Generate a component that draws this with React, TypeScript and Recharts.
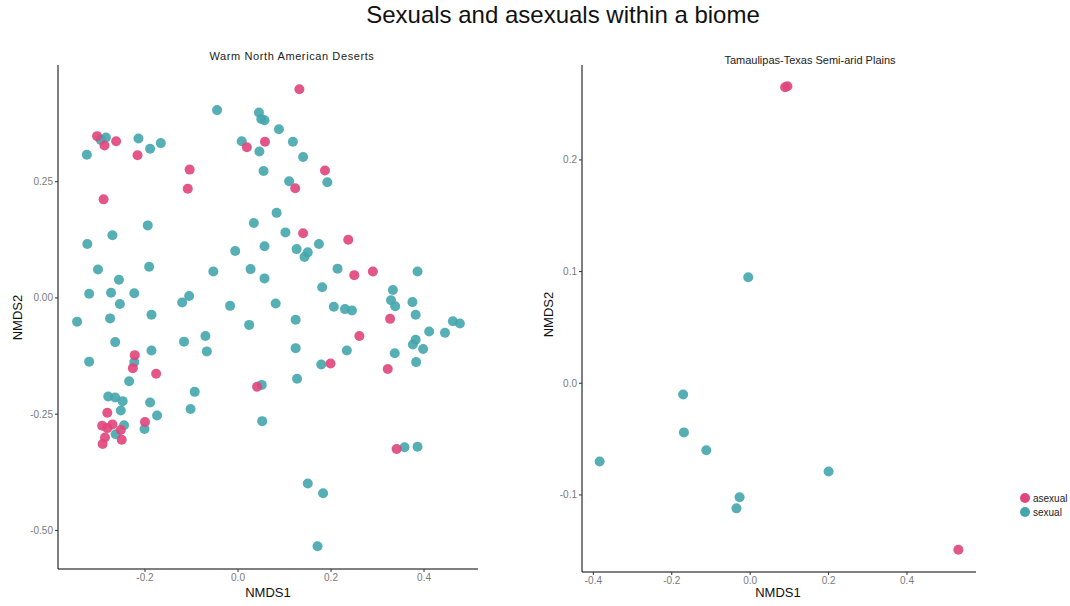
import React from "react"
import { ScatterChart, Scatter, XAxis, YAxis } from "recharts"

// Warm North American Deserts
const desertAsexual = [
  { x: -0.303, y: 0.348 }, { x: -0.287, y: 0.328 }, { x: -0.262, y: 0.337 },
  { x: -0.216, y: 0.307 }, { x: 0.019, y: 0.324 }, { x: 0.058, y: 0.336 },
  { x: -0.104, y: 0.276 }, { x: -0.108, y: 0.235 }, { x: -0.289, y: 0.212 },
  { x: 0.132, y: 0.449 }, { x: 0.187, y: 0.274 }, { x: 0.123, y: 0.236 },
  { x: 0.14, y: 0.139 }, { x: 0.237, y: 0.125 }, { x: 0.25, y: 0.049 },
  { x: 0.29, y: 0.057 }, { x: 0.327, y: -0.045 }, { x: 0.261, y: -0.082 },
  { x: 0.199, y: -0.141 }, { x: 0.322, y: -0.153 }, { x: -0.222, y: -0.123 },
  { x: -0.226, y: -0.151 }, { x: -0.176, y: -0.163 }, { x: 0.041, y: -0.191 },
  { x: -0.281, y: -0.247 }, { x: -0.292, y: -0.275 }, { x: -0.27, y: -0.272 },
  { x: -0.281, y: -0.28 }, { x: -0.252, y: -0.284 }, { x: -0.2, y: -0.267 },
  { x: -0.286, y: -0.3 }, { x: -0.291, y: -0.314 }, { x: -0.25, y: -0.305 },
  { x: 0.341, y: -0.325 },
]

const desertSexual = [
  { x: -0.284, y: 0.345 }, { x: -0.295, y: 0.34 }, { x: -0.325, y: 0.308 },
  { x: -0.214, y: 0.343 }, { x: -0.189, y: 0.321 }, { x: -0.166, y: 0.333 },
  { x: -0.045, y: 0.404 }, { x: 0.045, y: 0.399 }, { x: 0.05, y: 0.385 },
  { x: 0.057, y: 0.382 }, { x: 0.008, y: 0.337 }, { x: 0.046, y: 0.315 },
  { x: 0.055, y: 0.273 }, { x: 0.034, y: 0.161 }, { x: -0.194, y: 0.156 },
  { x: -0.27, y: 0.135 }, { x: -0.324, y: 0.116 }, { x: 0.088, y: 0.363 },
  { x: 0.118, y: 0.336 }, { x: 0.14, y: 0.303 }, { x: 0.192, y: 0.249 },
  { x: 0.11, y: 0.251 }, { x: 0.083, y: 0.183 }, { x: 0.102, y: 0.141 },
  { x: 0.174, y: 0.116 }, { x: -0.006, y: 0.101 }, { x: 0.057, y: 0.111 },
  { x: -0.301, y: 0.061 }, { x: -0.191, y: 0.067 }, { x: -0.053, y: 0.057 },
  { x: 0.027, y: 0.062 }, { x: 0.057, y: 0.042 }, { x: -0.256, y: 0.039 },
  { x: -0.32, y: 0.009 }, { x: -0.273, y: 0.011 }, { x: -0.223, y: 0.01 },
  { x: -0.254, y: -0.013 }, { x: -0.12, y: -0.01 }, { x: -0.105, y: 0.004 },
  { x: -0.017, y: -0.017 }, { x: -0.346, y: -0.051 }, { x: -0.275, y: -0.044 },
  { x: -0.186, y: -0.036 }, { x: 0.024, y: -0.058 }, { x: -0.264, y: -0.095 },
  { x: -0.116, y: -0.094 }, { x: -0.07, y: -0.082 }, { x: -0.067, y: -0.115 },
  { x: -0.186, y: -0.113 }, { x: -0.223, y: -0.138 }, { x: -0.234, y: -0.179 },
  { x: -0.32, y: -0.137 }, { x: -0.093, y: -0.202 }, { x: 0.051, y: -0.187 },
  { x: -0.279, y: -0.212 }, { x: -0.264, y: -0.214 }, { x: -0.248, y: -0.222 },
  { x: -0.252, y: -0.242 }, { x: -0.189, y: -0.225 }, { x: -0.174, y: -0.253 },
  { x: -0.102, y: -0.239 }, { x: 0.052, y: -0.265 }, { x: -0.245, y: -0.274 },
  { x: -0.263, y: -0.293 }, { x: -0.201, y: -0.282 }, { x: 0.358, y: -0.321 },
  { x: 0.386, y: -0.32 }, { x: 0.15, y: -0.399 }, { x: 0.183, y: -0.42 },
  { x: 0.171, y: -0.534 }, { x: 0.126, y: 0.105 }, { x: 0.15, y: 0.098 },
  { x: 0.143, y: 0.088 }, { x: 0.214, y: 0.063 }, { x: 0.386, y: 0.057 },
  { x: 0.181, y: 0.023 }, { x: 0.333, y: 0.017 }, { x: 0.329, y: -0.005 },
  { x: 0.338, y: -0.018 }, { x: 0.375, y: -0.009 }, { x: 0.382, y: -0.036 },
  { x: 0.081, y: -0.012 }, { x: 0.206, y: -0.019 }, { x: 0.23, y: -0.024 },
  { x: 0.245, y: -0.027 }, { x: 0.124, y: -0.047 }, { x: 0.462, y: -0.05 },
  { x: 0.477, y: -0.055 }, { x: 0.411, y: -0.072 }, { x: 0.445, y: -0.075 },
  { x: 0.382, y: -0.09 }, { x: 0.376, y: -0.1 }, { x: 0.398, y: -0.11 },
  { x: 0.124, y: -0.108 }, { x: 0.234, y: -0.113 }, { x: 0.337, y: -0.119 },
  { x: 0.383, y: -0.138 }, { x: 0.179, y: -0.143 }, { x: 0.127, y: -0.174 },
]

// Tamaulipas-Texas Semi-arid Plains
const plainsAsexual = [
  { x: 0.089, y: 0.265 }, { x: 0.095, y: 0.266 }, { x: 0.531, y: -0.149 },
]

const plainsSexual = [
  { x: -0.005, y: 0.095 }, { x: -0.171, y: -0.01 }, { x: -0.169, y: -0.044 },
  { x: -0.112, y: -0.06 }, { x: -0.384, y: -0.07 }, { x: 0.2, y: -0.079 },
  { x: -0.027, y: -0.102 }, { x: -0.035, y: -0.112 },
]

const desertXTicks = [-0.2, 0, 0.2, 0.4]
const desertYTicks = [-0.5, -0.25, 0, 0.25]
const plainsXTicks = [-0.4, -0.2, 0, 0.2, 0.4]
const plainsYTicks = [-0.1, 0, 0.1, 0.2]

const ASEXUAL = "#E0457B"
const SEXUAL = "#44A6AD"
const FONT = "'Liberation Sans', Arial, sans-serif"

const dot = (color: string) => (p: any) => (
  <circle cx={p.cx} cy={p.cy} r={5} fill={color} fillOpacity={0.9} />
)

const tickStyle = { fontSize: 10, fill: "#7a7a7a", fontFamily: FONT }
const axisLine = { stroke: "#000", strokeWidth: 1 }

interface PanelProps {
  asexual: { x: number; y: number }[]
  sexual: { x: number; y: number }[]
  xDomain: [number, number]
  yDomain: [number, number]
  xTicks: number[]
  yTicks: number[]
  xDigits: number
  yDigits: number
  width: number
  yAxisWidth: number
  margin: { top: number; right: number; bottom: number; left: number }
}

function Panel(props: PanelProps) {
  return (
    <ScatterChart width={props.width} height={606} margin={props.margin}>
      <XAxis
        type="number"
        dataKey="x"
        domain={props.xDomain}
        ticks={props.xTicks}
        allowDataOverflow
        tickFormatter={(v: number) => v.toFixed(props.xDigits)}
        tick={tickStyle}
        axisLine={axisLine}
        tickLine={{ stroke: "#333" }}
        tickSize={3}
        tickMargin={2}
        height={30}
      />
      <YAxis
        type="number"
        dataKey="y"
        domain={props.yDomain}
        ticks={props.yTicks}
        allowDataOverflow
        tickFormatter={(v: number) => v.toFixed(props.yDigits)}
        tick={tickStyle}
        axisLine={axisLine}
        tickLine={{ stroke: "#333" }}
        tickSize={3}
        tickMargin={2}
        width={props.yAxisWidth}
      />
      <Scatter data={props.sexual} shape={dot(SEXUAL)} isAnimationActive={false} />
      <Scatter data={props.asexual} shape={dot(ASEXUAL)} isAnimationActive={false} />
    </ScatterChart>
  )
}

const abs = (extra: React.CSSProperties): React.CSSProperties => ({
  position: "absolute",
  fontFamily: FONT,
  whiteSpace: "nowrap",
  ...extra,
})

export default function App() {
  return (
    <div
      style={{
        position: "absolute",
        left: 0,
        top: 0,
        width: 1070,
        height: 606,
        background: "#fff",
        overflow: "hidden",
      }}
    >
      <div style={abs({ left: 0, top: 0 })}>
        <Panel
          asexual={desertAsexual}
          sexual={desertSexual}
          xDomain={[-0.387, 0.516]}
          yDomain={[-0.583, 0.501]}
          xTicks={desertXTicks}
          yTicks={desertYTicks}
          xDigits={1}
          yDigits={2}
          width={490}
          yAxisWidth={58}
          margin={{ top: 65, right: 12, bottom: 7, left: 0 }}
        />
      </div>
      <div style={abs({ left: 520, top: 0 })}>
        <Panel
          asexual={plainsAsexual}
          sexual={plainsSexual}
          xDomain={[-0.429, 0.576]}
          yDomain={[-0.169, 0.285]}
          xTicks={plainsXTicks}
          yTicks={plainsYTicks}
          xDigits={1}
          yDigits={1}
          width={470}
          yAxisWidth={62}
          margin={{ top: 65, right: 14, bottom: 4, left: 0 }}
        />
      </div>

      <div style={abs({ left: 0, width: 1126, top: 1, textAlign: "center", fontSize: 24, fontWeight: 300, color: "#111" })}>
        Sexuals and asexuals within a biome
      </div>
      <div style={abs({ left: 192, width: 200, top: 50, textAlign: "center", fontSize: 11, letterSpacing: 0.6, color: "#222" })}>
        Warm North American Deserts
      </div>
      <div style={abs({ left: 710, width: 200, top: 54, textAlign: "center", fontSize: 11, color: "#222" })}>
        Tamaulipas-Texas Semi-arid Plains
      </div>
      <div style={abs({ left: 218, width: 100, top: 585, textAlign: "center", fontSize: 13, color: "#111" })}>
        NMDS1
      </div>
      <div style={abs({ left: 728, width: 100, top: 585, textAlign: "center", fontSize: 13, color: "#111" })}>
        NMDS1
      </div>
      <div style={abs({ left: -33, width: 100, top: 310, textAlign: "center", fontSize: 13, color: "#111", transform: "rotate(-90deg)" })}>
        NMDS2
      </div>
      <div style={abs({ left: 498, width: 100, top: 307, textAlign: "center", fontSize: 13, color: "#111", transform: "rotate(-90deg)" })}>
        NMDS2
      </div>

      <div style={abs({ left: 1020, top: 491, fontSize: 10, color: "#222" })}>
        {[
          { name: "asexual", color: ASEXUAL },
          { name: "sexual", color: SEXUAL },
        ].map((d) => (
          <div key={d.name} style={{ display: "flex", alignItems: "center", height: 14 }}>
            <span
              style={{
                display: "inline-block",
                width: 10,
                height: 10,
                borderRadius: 5,
                background: d.color,
                marginRight: 3,
              }}
            />
            {d.name}
          </div>
        ))}
      </div>
    </div>
  )
}
